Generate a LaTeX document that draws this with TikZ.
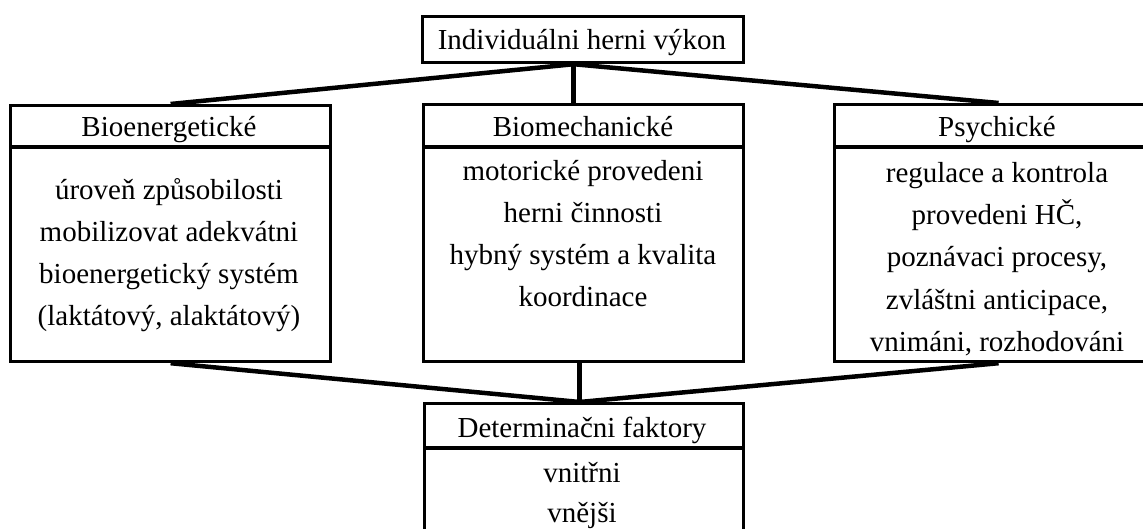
\documentclass[tikz,border=0pt]{standalone}
\usepackage{fontspec}
\setmainfont{Liberation Serif}
\usetikzlibrary{calc}
\begin{document}
\begin{tikzpicture}[x=1pt,y=-1pt,
  panel/.style={draw=black, line width=3.2pt, fill=white, inner sep=0pt, anchor=north west},
  rule/.style={draw=black, line width=3.2pt},
  wire/.style={draw=black, line width=4.5pt},
  lbl/.style={anchor=base, inner sep=0pt, font=\fontsize{29}{42}\selectfont}]
\useasboundingbox (0,0) rectangle (1143,529);
\fill[white] (0,0) rectangle (1143,529);
\clip (0,0) rectangle (1143,529);

% boxes
\node[panel, minimum width=321pt, minimum height=46pt]  (top) at (421,15)  {};
\node[panel, minimum width=320pt, minimum height=256pt] (bio) at (9,104)   {};
\node[panel, minimum width=320pt, minimum height=257pt] (mec) at (422,103) {};
\node[panel, minimum width=328pt, minimum height=257pt] (psy) at (833,103) {};
\node[panel, minimum width=319pt, minimum height=160pt] (det) at (423,402) {};

% header separators
\draw[rule] ($(bio.north west)+(0,43)$) -- ($(bio.north east)+(0,43)$);
\draw[rule] ($(mec.north west)+(0,44)$) -- ($(mec.north east)+(0,44)$);
\draw[rule] ($(psy.north west)+(0,44)$) -- ($(psy.north east)+(0,44)$);
\draw[rule] ($(det.north west)+(0,46)$) -- ($(det.north east)+(0,46)$);

% connectors
\coordinate (topJ) at ($(top.south)+(-9.5,0)$);
\coordinate (botJ) at ($(det.north)+(-4.5,0)$);
\draw[wire] (topJ) -- (mec.north -| topJ);
\draw[wire] (topJ) -- (bio.north);
\draw[wire] (topJ) -- (psy.north);
\draw[wire] (mec.south -| botJ) -- (botJ);
\draw[wire] (bio.south) -- (botJ);
\draw[wire] (psy.south) -- (botJ);

% titles
\node[lbl] (topT) at (582,50)  {Individuálni herni výkon};
\node[lbl] (bioT) at (169,137) {Bioenergetické};
\node[lbl] (mecT) at (583,137) {Biomechanické};
\node[lbl] (psyT) at (997,137) {Psychické};
\node[lbl] (detT) at (582,437) {Determinačni faktory};

% body texts
\foreach \t [count=\i from 0] in {úroveň způsobilosti, mobilizovat adekvátni, bioenergetický systém, {(laktátový, alaktátový)}}
  \node[lbl] (bioL\i) at (169,{200+42*\i}) {\t};
\foreach \t [count=\i from 0] in {motorické provedeni, herni činnosti, hybný systém a kvalita, koordinace}
  \node[lbl] (mecL\i) at (583,{181+42*\i}) {\t};
\foreach \t [count=\i from 0] in {regulace a kontrola, {provedeni HČ,}, {poznávaci procesy,}, {zvláštni anticipace,}, {vnimáni, rozhodováni}}
  \node[lbl] (psyL\i) at (997,{183+42*\i}) {\t};
\foreach \t [count=\i from 0] in {vnitřni, vnějši}
  \node[lbl] (detL\i) at (582,{482+40*\i}) {\t};
\end{tikzpicture}
\end{document}
